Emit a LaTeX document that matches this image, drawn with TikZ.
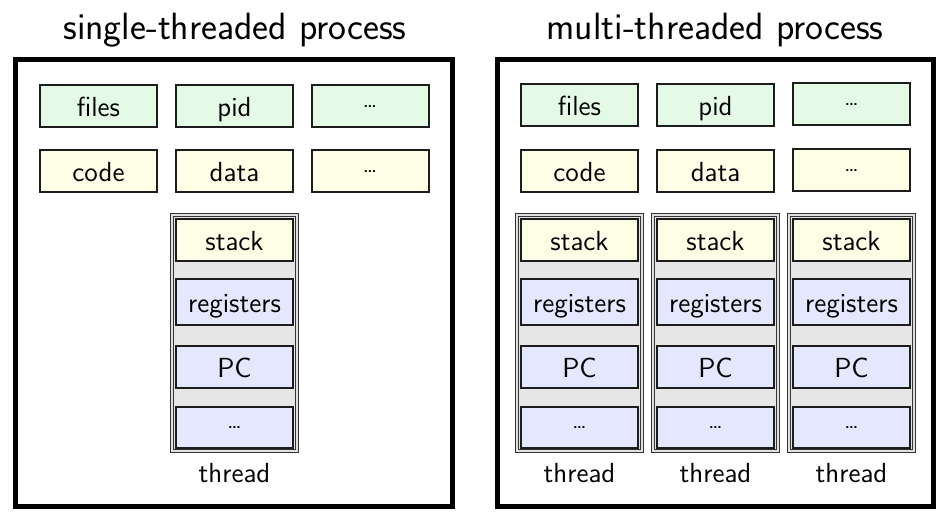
\documentclass[tikz,border=0pt]{standalone}
\usepackage{tikz}
\definecolor{boxgreen}{HTML}{E4FAE6}
\definecolor{boxyellow}{HTML}{FEFDE5}
\definecolor{boxblue}{HTML}{E4E7FD}
\definecolor{thrgray}{HTML}{E6E6E6}
\definecolor{edge}{HTML}{1C1C1C}
\begin{document}
\begin{tikzpicture}[x=0.5pt,y=-0.5pt,
  lbl/.style={font=\sffamily\fontsize{13.8}{16}\selectfont, inner sep=0pt},
  ttl/.style={font=\sffamily\fontsize{19}{23}\selectfont, inner sep=0pt},
  box/.style={draw=edge, line width=1pt, minimum width=58.5pt, minimum height=21pt, inner sep=0pt, text height=11.6pt, text depth=1.6pt, font=\sffamily\fontsize{13.8}{16}\selectfont},
  dotsz/.style={font=\sffamily\fontsize{12}{14}\selectfont, text height=1.3pt, text depth=0pt},
  gbox/.style={box, fill=boxgreen},
  ybox/.style={box, fill=boxyellow},
  bbox/.style={box, fill=boxblue},
  proc/.style={draw=black, line width=2.5pt, minimum width=218.25pt, minimum height=223.25pt, inner sep=0pt},
  thr/.style={draw=black!80, double=black!12, double distance=0.7pt, line width=0.6pt, fill=thrgray, minimum width=62.5pt, minimum height=118pt, inner sep=0pt}
]
\useasboundingbox (0,0) rectangle (945,520);
% titles
\node[ttl] (t1) at (235,30) {single-threaded process};
\node[ttl] (t2) at (715,30) {multi-threaded process};
% process boxes
\node[proc] (p1) at (233.75,282.75) {};
\node[proc] (p2) at (715.25,282.75) {};
% left shared resources
\node[gbox] (files1) at (98.5,106) {files};
\node[gbox] (pid1) at (234.5,106) {pid};
\node[gbox, dotsz] (og1) at (370,106) {\ldots};
\node[ybox] (code1) at (98.5,171) {code};
\node[ybox] (data1) at (234.5,171) {data};
\node[ybox, dotsz] (oy1) at (370,171) {\ldots};
% right shared resources
\node[gbox] (files2) at (579.5,105) {files};
\node[gbox] (pid2) at (715.5,105) {pid};
\node[gbox, dotsz] (og2) at (851.5,104) {\ldots};
\node[ybox] (code2) at (579.5,171) {code};
\node[ybox] (data2) at (715.5,171) {data};
\node[ybox, dotsz] (oy2) at (851.5,170) {\ldots};
% threads
\foreach \c/\x in {a/234.5, b/579.5, c/715.5, d/851.5}{
  \node[thr] (thr\c) at (\x,333) {};
  \node[ybox] (stack\c) at (\x,240) {stack};
  \node[bbox, minimum height=23pt] (reg\c) at (\x,302) {registers};
  \node[bbox] (pc\c) at (\x,367) {PC};
  \node[bbox, dotsz, minimum height=20.5pt] (od\c) at (\x,427) {\ldots};
  \node[lbl] (tl\c) at (\x,473) {thread};
}
\end{tikzpicture}
\end{document}
